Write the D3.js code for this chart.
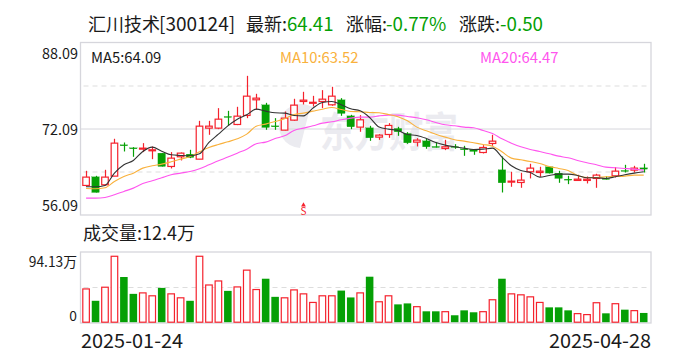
<!DOCTYPE html>
<html><head><meta charset="utf-8">
<script src="https://cdn.jsdelivr.net/npm/d3@7/dist/d3.min.js"></script>
<style>html,body{margin:0;padding:0;background:#fff}svg{display:block}text{font-family:"Noto Sans CJK SC","Noto Sans",sans-serif}</style>
</head><body><svg id="c" width="688" height="360"></svg>
<script>
const dates=["2025-01-24","2025-04-28"];
const priceTicks=[88.09,72.09,56.09];
const volumeTicks=[94.13,0];
const open=[61.59,63.20,61.71,63.32,69.15,68.59,68.47,68.16,67.60,65.12,66.92,67.41,66.48,72.25,72.25,74.42,72.93,74.61,77.52,76.59,72.68,71.88,73.74,77.21,77.00,77.21,76.59,77.52,74.54,72.44,72.31,70.58,71.07,72.19,71.26,69.65,69.89,68.84,68.47,68.84,68.41,68.28,67.72,69.40,64.50,62.33,62.14,64.13,64.00,65.06,63.88,62.76,62.52,62.52,62.89,62.89,63.38,64.38,64.44,64.87];
const close=[63.14,60.28,63.14,69.46,69.09,68.53,68.53,68.22,65.12,66.67,67.60,66.79,72.62,72.62,73.92,74.36,74.48,78.20,77.83,72.37,72.62,74.11,76.53,77.46,77.06,77.64,78.20,74.98,72.50,73.80,70.45,70.95,72.75,71.57,69.52,70.02,68.78,68.78,68.78,68.78,68.34,67.91,68.65,69.83,62.08,62.39,62.58,64.81,64.25,63.88,62.89,62.70,62.76,62.76,63.51,62.70,64.25,64.31,64.81,64.62];
const high=[64.31,63.38,64.50,70.27,69.58,68.72,69.46,68.84,67.60,67.79,67.72,68.22,73.61,73.61,75.97,75.47,76.22,81.98,78.64,76.96,74.11,75.35,77.71,79.01,78.26,79.32,79.94,77.83,74.73,74.67,72.68,71.13,73.18,72.50,71.51,70.39,70.27,69.65,70.08,69.27,68.96,68.34,69.09,71.01,66.98,64.13,63.94,65.62,65.06,65.18,64.31,63.38,63.57,63.26,63.76,63.32,65.00,65.43,65.24,65.62];
const low=[61.40,60.28,61.59,63.32,67.91,66.92,67.79,66.48,65.12,64.75,66.24,66.67,66.48,71.01,72.06,72.68,72.81,74.11,75.66,71.94,71.94,71.82,73.61,76.65,76.28,75.97,76.40,74.54,72.06,71.57,69.89,70.08,70.45,70.82,69.33,68.84,68.41,68.65,68.16,68.41,67.10,67.29,67.54,68.96,60.28,61.34,61.15,62.89,63.20,63.82,62.08,61.83,62.52,61.96,61.15,62.70,63.07,64.00,64.00,64.00];
const ma5=[61.34,61.34,61.59,63.88,65.43,66.24,67.91,68.72,67.97,67.29,67.17,67.10,67.48,69.58,71.13,72.68,73.92,74.73,75.78,75.41,75.10,75.04,74.61,74.54,75.97,77.02,77.21,76.59,75.85,75.47,74.23,72.44,72.06,71.82,71.07,70.89,70.33,69.58,69.09,68.78,68.53,68.28,68.34,68.53,66.86,65.24,64.38,64.00,63.14,63.45,63.69,63.69,63.45,63.01,63.01,62.89,63.20,63.57,63.88,64.13];
const ma10=[61.03,60.97,61.15,62.33,63.26,63.88,64.81,65.24,65.55,65.99,66.48,66.98,67.85,68.65,69.21,69.71,70.27,71.13,72.62,73.00,73.49,73.99,74.79,75.04,75.41,75.78,76.09,75.72,75.35,75.29,75.16,75.10,74.79,74.36,73.61,72.44,71.75,71.13,70.58,70.08,69.83,69.52,69.21,68.90,67.85,66.67,66.36,66.05,65.68,65.12,64.75,64.38,63.45,63.07,63.07,63.20,63.26,63.32,63.51,63.51];
const ma20=[59.23,59.23,59.35,59.85,60.47,61.09,61.96,62.45,63.01,63.57,63.88,64.19,64.69,65.43,66.17,66.86,67.60,68.34,69.34,69.65,70.33,70.82,71.82,72.25,72.68,73.18,73.43,73.80,74.11,74.30,74.30,74.54,74.67,74.67,74.42,74.17,73.80,73.30,72.87,72.68,72.44,72.31,71.82,71.26,70.27,69.46,68.78,68.28,67.91,67.48,67.04,66.73,66.24,65.80,65.43,64.99,64.87,64.75,64.62,64.44];
const volume=[44.6,28.7,46.9,88.4,60.6,38.0,39.3,35.4,46.0,38.0,32.7,28.7,88.4,49.9,55.3,42.0,47.3,69.8,43.8,58.3,34.0,32.7,43.3,38.0,26.5,35.4,35.4,42.4,33.2,39.3,61.0,27.4,35.4,23.9,25.2,20.8,14.6,14.6,14.1,9.3,15.9,13.3,14.1,30.1,58.3,38.0,36.7,34.0,26.5,19.9,19.9,15.9,11.5,10.2,26.1,11.9,24.8,16.8,15.5,12.4];
const maSeries=[[ma20,"#ff55ee"],[ma10,"#f9b13c"],[ma5,"#333333"]];
const RED="#f5222d",GREEN="#05a005",GRID="#d6d6dc",DASH="#dddddd",INK="#1a1a1a",MARK="#ebebf0";

const svg=d3.select("#c");
const L=80.5,R=651,T=43,B=215,VT=252,VB=323;
const x=d3.scaleBand().domain(d3.range(open.length)).range([82.3,647.5]).paddingInner(0.2);
const y=d3.scaleLinear().domain([56.09,88.09]).range([B,T]);
const v=d3.scaleLinear().domain([0,94.13]).range([VB-0.8,VT]);
const cx=i=>x(i)+x.bandwidth()/2;

// title: CJK glyphs at 18px, Latin at about 19px
[["汇川技术",INK,88,18],["[300124]",INK,159,19],["最新:",INK,246,18],["64.41",GREEN,287,18.6],["涨幅:",INK,346,18],["-0.77%",GREEN,386,18.8],["涨跌:",INK,459,18],["-0.50",GREEN,500,18.8]].forEach(d=>{
  svg.append("text").attr("x",d[2]).attr("y",31).attr("font-size",d[3]).attr("fill",d[1]).text(d[0]);
});

// watermark
svg.append("text").attr("x",320).attr("y",147).attr("font-size",41).attr("font-weight",700).attr("fill",MARK).attr("textLength",138).attr("lengthAdjust","spacingAndGlyphs").text("东方财富");
svg.append("path").attr("d","M316 110 A22 22 0 1 0 300 148 L310 108 Z").attr("fill",MARK);

// grids
[64.09,80.09].forEach(p=>svg.append("line").attr("x1",L+3).attr("x2",R-3).attr("y1",y(p)).attr("y2",y(p)).attr("stroke",DASH).attr("stroke-dasharray","5 4"));
svg.append("line").attr("x1",L).attr("x2",R).attr("y1",y(72.09)).attr("y2",y(72.09)).attr("stroke",GRID).attr("stroke-width",1);
svg.append("line").attr("x1",L+3).attr("x2",R-3).attr("y1",(VT+VB)/2).attr("y2",(VT+VB)/2).attr("stroke",DASH).attr("stroke-dasharray","5 4");
svg.append("rect").attr("x",L).attr("y",T-0.5).attr("width",R-L).attr("height",B-T+0.5).attr("fill","none").attr("stroke",GRID).attr("stroke-width",1.3);
svg.append("rect").attr("x",L).attr("y",VT).attr("width",R-L).attr("height",VB-VT).attr("fill","none").attr("stroke",GRID).attr("stroke-width",1.3);

// axes
const ay=svg.append("g").attr("transform",`translate(78,0)`).call(d3.axisLeft(y).tickValues(priceTicks).tickSize(0).tickPadding(0).tickFormat(d3.format(".2f")));
ay.select(".domain").remove();
ay.selectAll("text").attr("font-size",14.4).attr("fill",INK).style("font-family",'"Noto Sans CJK SC"').attr("dy",(d,i)=>i===0?"15":i===2?"-5":"5");
const av=svg.append("g").attr("transform",`translate(77,0)`).call(d3.axisLeft(v).tickValues(volumeTicks).tickSize(0).tickPadding(0).tickFormat(d=>d?d3.format(".2f")(d)+"万":"0"));
av.select(".domain").remove();
av.selectAll("text").attr("font-size",13.8).attr("fill",INK).style("font-family",'"Noto Sans CJK SC"').attr("dy",d=>d?"14":"-2");

// candles
const up=i=>close[i]>=open[i];
const g=svg.append("g");
const idx=d3.range(open.length);
g.selectAll(".w").data(idx).join("line").attr("x1",i=>Math.round(cx(i))+.5).attr("x2",i=>Math.round(cx(i))+.5).attr("y1",i=>y(high[i])).attr("y2",i=>y(low[i])).attr("stroke",i=>up(i)?RED:GREEN).attr("stroke-width",1.2);
g.selectAll(".b").data(idx).join("rect")
 .attr("x",i=>x(i)+(up(i)?.5:0)).attr("width",i=>x.bandwidth()-(up(i)?1:0))
 .attr("y",i=>Math.min(y(open[i]),y(close[i]))).attr("height",i=>Math.max(1,Math.abs(y(open[i])-y(close[i]))))
 .attr("fill",i=>up(i)?"#fff":GREEN).attr("stroke",i=>up(i)?RED:GREEN).attr("stroke-width",i=>up(i)?1.2:0.2);

// MA lines
const line=d3.line().x((d,i)=>cx(i)).y(d=>y(d)).curve(d3.curveMonotoneX);
maSeries.forEach(([s,c])=>svg.append("path").attr("d",line(s)).attr("fill","none").attr("stroke",c).attr("stroke-width",1.1));

// labels
[["MA5:64.09",INK,91],["MA10:63.52","#f9b13c",280],["MA20:64.47","#ff55ee",480]].forEach(d=>svg.append("text").attr("x",d[2]).attr("y",62.5).attr("font-size",14.8).attr("fill",d[1]).text(d[0]));
svg.append("text").attr("x",83).attr("y",240).attr("font-size",18).attr("fill",INK).text("成交量:12.4万");

// sell mark
const sx=cx(23);
svg.append("path").attr("d",d3.symbol(d3.symbolTriangle,10)()).attr("transform",`translate(${sx},205)`).attr("fill",RED);
svg.append("text").attr("x",sx).attr("y",214.5).attr("text-anchor","middle").attr("font-size",10).attr("fill",RED).text("S");

// volume
svg.append("g").selectAll("rect").data(idx).join("rect")
 .attr("x",i=>x(i)+(up(i)?.5:0)).attr("width",i=>x.bandwidth()-(up(i)?1:0))
 .attr("y",i=>v(volume[i])).attr("height",i=>VB-0.8-v(volume[i]))
 .attr("fill",i=>up(i)?"#fff":GREEN).attr("stroke",i=>up(i)?RED:"none").attr("stroke-width",1.2);

// dates
svg.append("text").attr("x",81).attr("y",348).attr("font-size",19.9).attr("fill",INK).text(dates[0]);
svg.append("text").attr("x",651).attr("y",348).attr("text-anchor","end").attr("font-size",19.9).attr("fill",INK).text(dates[1]);
</script></body></html>
